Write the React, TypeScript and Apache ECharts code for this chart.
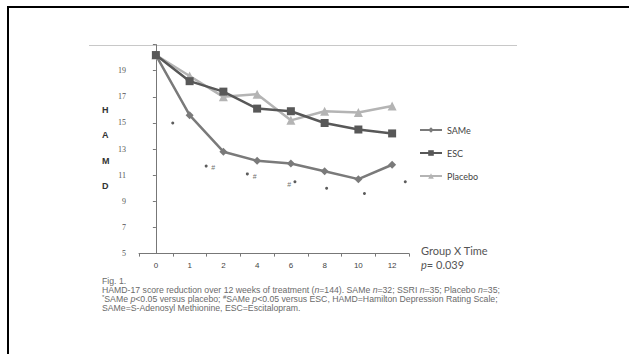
import React, { useEffect, useRef } from "react";
import * as echarts from "echarts";

const weeks = ["0", "1", "2", "4", "6", "8", "10", "12"];
const sameValues = [20.2, 15.6, 12.8, 12.1, 11.9, 11.3, 10.7, 11.8];
const escValues = [20.2, 18.2, 17.4, 16.1, 15.9, 15.0, 14.5, 14.2];
const placeboValues = [20.2, 18.6, 17.0, 17.2, 15.2, 15.9, 15.8, 16.3];
// significance marks: [position on category index scale, HAMD value]
const starMarks = [
  [0.5, 15.0],
  [1.49, 11.7],
  [2.71, 11.1],
  [4.12, 10.5],
  [5.06, 10.0],
  [6.18, 9.6],
  [7.39, 10.5],
];
const hashMarks = [
  [1.7, 11.6],
  [2.93, 10.9],
  [3.95, 10.3],
];
const yAxisLetters = ["H", "A", "M", "D"];
const captionTitle = "Fig. 1.";
const groupLabel = "Group X Time";
const pLabel = "0.039";

export default function App() {
  const ref = useRef<HTMLDivElement>(null);
  useEffect(() => {
    if (!ref.current) return;
    const chart = echarts.init(ref.current, undefined, { renderer: "svg" });
    const capFont = "Liberation Sans";
    const capColor = "#6a6a6a";
    const capSize = 8.7;
    const rich = {
      t: { fontFamily: capFont, fontSize: capSize, fill: capColor, lineHeight: 9 },
      i: { fontStyle: "italic", fontFamily: capFont, fontSize: capSize, fill: capColor, lineHeight: 9 },
      s: { fontFamily: capFont, fontSize: 6, fill: capColor, lineHeight: 9, verticalAlign: "top" },
    };
    const letterGraphics = yAxisLetters.map((l, i) => ({
      type: "text",
      left: 102,
      top: 105 + i * 25.5,
      style: { text: l, fontFamily: "Liberation Sans", fontWeight: "bold", fontSize: 9, fill: "#333" },
    }));
    chart.setOption({
      animation: false,
      backgroundColor: "#fff",
      grid: { left: 139, top: 44.6, width: 270, height: 209, containLabel: false },
      xAxis: [
        {
          type: "category",
          data: weeks,
          axisLine: { lineStyle: { color: "#777", width: 1 } },
          axisTick: { show: true, length: 3, lineStyle: { color: "#777" } },
          axisLabel: { fontFamily: "Liberation Sans", fontSize: 8, color: "#444", margin: 8 },
          splitLine: { show: false },
        },
        {
          type: "value",
          min: -0.5,
          max: 7.5,
          show: false,
        },
      ],
      yAxis: {
        type: "value",
        min: 5,
        max: 21,
        interval: 2,
        axisLine: { show: true, lineStyle: { color: "#777", width: 1 } },
        axisTick: { show: true, length: 3, lineStyle: { color: "#777" } },
        axisLabel: {
          fontFamily: "Liberation Serif",
          fontSize: 8,
          color: "#555",
          margin: 13,
          formatter: (v: number) => (v === 21 ? "" : String(v)),
        },
        splitLine: { show: false },
      },
      legend: {
        orient: "vertical",
        left: 414,
        top: 120,
        itemWidth: 22,
        itemHeight: 7,
        itemGap: 13,
        data: ["SAMe", "ESC", "Placebo"],
        textStyle: { fontFamily: "Lato", fontSize: 9, color: "#444", lineHeight: 10 },
      },
      series: [
        {
          name: "SAMe",
          type: "line",
          data: sameValues,
          symbol: "diamond",
          symbolSize: 8,
          lineStyle: { color: "#7a7a7a", width: 2.5 },
          itemStyle: { color: "#7a7a7a" },
          z: 3,
        },
        {
          name: "ESC",
          type: "line",
          data: escValues,
          symbol: "rect",
          symbolSize: 8,
          lineStyle: { color: "#585858", width: 2.5 },
          itemStyle: { color: "#585858" },
          z: 3,
        },
        {
          name: "Placebo",
          type: "line",
          data: placeboValues,
          symbol: "triangle",
          symbolSize: 9,
          lineStyle: { color: "#b4b4b4", width: 2.5 },
          itemStyle: { color: "#b4b4b4" },
          z: 2,
        },
        {
          name: "star",
          type: "scatter",
          xAxisIndex: 1,
          data: starMarks,
          symbol: "circle",
          symbolSize: 3,
          itemStyle: { color: "#333" },
        },
        {
          name: "hash",
          type: "scatter",
          xAxisIndex: 1,
          data: hashMarks,
          symbolSize: 1,
          itemStyle: { color: "rgba(0,0,0,0)" },
          label: {
            show: true,
            position: "inside",
            formatter: "#",
            fontFamily: "Liberation Sans",
            fontSize: 7,
            color: "#444",
          },
        },
      ],
      graphic: [
        // page frame
        { type: "rect", shape: { x: 7, y: 6, width: 640, height: 2 }, style: { fill: "#000" } },
        { type: "rect", shape: { x: 7, y: 6, width: 2, height: 360 }, style: { fill: "#000" } },
        // figure top edge
        { type: "line", shape: { x1: 89, y1: 45.5, x2: 517, y2: 45.5 }, style: { stroke: "#c8c8c8", lineWidth: 1 } },
        ...letterGraphics,
        {
          type: "text",
          left: 421,
          top: 245,
          style: { text: groupLabel, fontFamily: "Lato", fontSize: 11, fill: "#555" },
        },
        {
          type: "text",
          left: 421,
          top: 259,
          style: {
            text: "{i|p}= " + pLabel,
            fontFamily: "Lato",
            fontSize: 11,
            fill: "#555",
            rich: { i: { fontStyle: "italic", fontFamily: "Lato", fontSize: 11, fill: "#555" } },
          },
        },
        {
          type: "text",
          left: 102,
          top: 276,
          style: { text: captionTitle, fontFamily: capFont, fontSize: capSize, fill: capColor },
        },
        {
          type: "text",
          left: 102,
          top: 285,
          style: {
            text: "{t|HAMD-17 score reduction over 12 weeks of treatment (}{i|n}{t|=144). SAMe }{i|n}{t|=32; SSRI }{i|n}{t|=35; Placebo }{i|n}{t|=35;}",
            rich,
          },
        },
        {
          type: "text",
          left: 102,
          top: 294,
          style: {
            text: "{s|*}{t|SAMe }{i|p}{t|<0.05 versus placebo; }{s|#}{t|SAMe }{i|p}{t|<0.05 versus ESC, HAMD=Hamilton Depression Rating Scale;}",
            rich,
          },
        },
        {
          type: "text",
          left: 102,
          top: 303,
          style: {
            text: "SAMe=S-Adenosyl Methionine, ESC=Escitalopram.",
            fontFamily: capFont,
            fontSize: capSize,
            fill: capColor,
          },
        },
      ],
    });
    return () => chart.dispose();
  }, []);
  return (
    <div
      ref={ref}
      style={{ position: "absolute", left: 0, top: 0, width: 629, height: 354 }}
    />
  );
}
